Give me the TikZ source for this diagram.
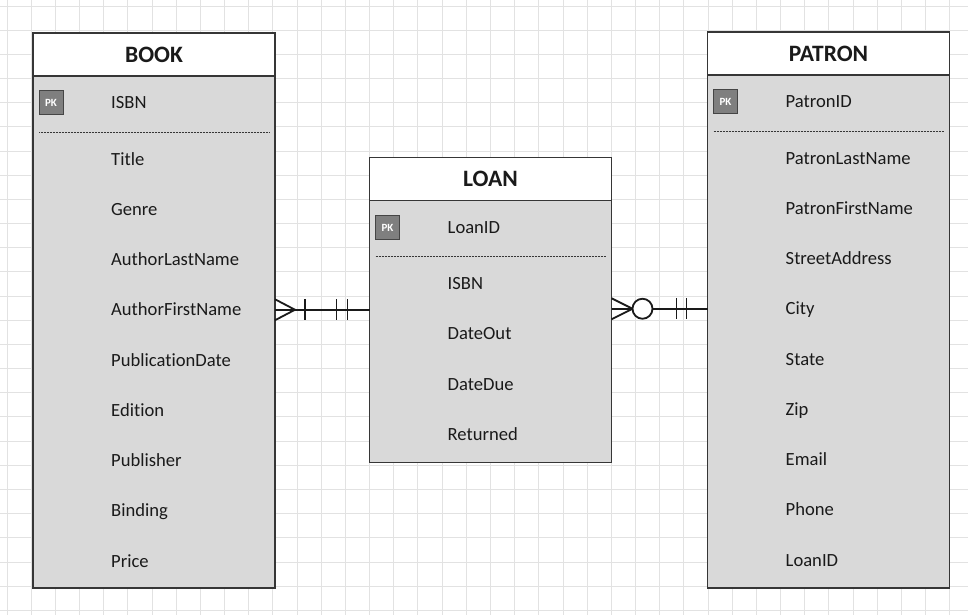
\documentclass[tikz,border=0pt]{standalone}
\usepackage{fontspec}
\setmainfont{Carlito}[Ligatures={NoCommon}]
\usetikzlibrary{calc}

\definecolor{gridc}{HTML}{E2E2E2}
\definecolor{edge}{HTML}{363636}
\definecolor{bodyfill}{HTML}{D9D9D9}
\definecolor{pkfill}{HTML}{7F7F7F}
\definecolor{pkedge}{HTML}{454545}
\definecolor{ink}{HTML}{1A1A1A}

\tikzset{
  gridline/.style={gridc, line width=0.8pt},
  hdr/.style={draw=edge, line width=1.2pt, fill=white, minimum width=242pt,
    minimum height=43pt, inner sep=0pt, outer sep=0pt,
    font=\fontsize{23.5}{26}\selectfont\bfseries, text=ink},
  bodybox/.style={draw=edge, line width=1.2pt, fill=bodyfill, minimum width=242pt,
    inner sep=0pt, outer sep=0pt},
  pkbadge/.style={draw=pkedge, line width=1pt, fill=pkfill, minimum size=24pt,
    inner sep=0pt, font=\fontsize{11}{12}\selectfont\bfseries, text=white},
  attr/.style={anchor=base west, inner sep=0pt, font=\fontsize{18.6}{21}\selectfont, text=ink},
  sepline/.style={edge, line width=0.8pt, dash pattern=on 0.8pt off 0.7pt},
  conn/.style={ink, line width=1.8pt},
}

% entity: id, title, left, top, body height, primary key
\newcommand{\erentity}[6]{%
  \node[hdr, anchor=north west] (#1-h) at (#3,#4) {#2};
  \node[bodybox, anchor=north west, minimum height=#5pt] (#1-b) at (#1-h.south west) {};
  \node[pkbadge] (#1-pk) at ($(#1-b.north west)+(18,27)$) {PK};
  \coordinate (#1-r0) at ($(#1-b.north west)+(78,27)$);
  \node[attr] (#1-k) at ($(#1-r0)+(0,6)$) {#6};
  \draw[sepline] ($(#1-b.north west)+(6,56)$) -- ($(#1-b.north east)+(-6,56)$);
}
% attribute rows below the separator
\newcommand{\erattrs}[2]{%
  \foreach \t [count=\i] in {#2} {
    \coordinate (#1-r\i) at ($(#1-r0)+(0,{56+50.25*(\i-1)})$);
    \node[attr] (#1-a\i) at ($(#1-r\i)+(0,6)$) {\t};
  }
}

\begin{document}
\begin{tikzpicture}[x=1pt,y=-1pt]
  \fill[white] (0,0) rectangle (968,615);
  \useasboundingbox (0,0) rectangle (968,615);

  % background grid
  \foreach \k in {0,...,39} \draw[gridline] ({7+24.17*\k},0) -- ++(0,615);
  \foreach \k in {0,...,25} \draw[gridline] (0,{6+24.17*\k}) -- ++(968,0);

  % entities
  \erentity{book}{BOOK}{33}{33}{512}{ISBN}
  \erattrs{book}{Title,Genre,AuthorLastName,AuthorFirstName,PublicationDate,Edition,Publisher,Binding,Price}

  \erentity{loan}{LOAN}{369.5}{157.5}{262}{LoanID}
  \erattrs{loan}{ISBN,DateOut,DateDue,Returned}

  \erentity{patron}{PATRON}{707.5}{32}{513}{PatronID}
  \erattrs{patron}{PatronLastName,PatronFirstName,StreetAddress,City,State,Zip,Email,Phone,LoanID}

  % BOOK (many) -- LOAN (one and only one)
  \coordinate (bl) at (book-b.east |- book-r4);
  \coordinate (lw) at (loan-b.west |- book-r4);
  \draw[conn] (bl) -- (lw);
  \draw[conn] ($(bl)+(0,-10.5)$) -- ($(bl)+(20,0)$) -- ($(bl)+(0,10.5)$);
  \draw[conn] ($(bl)+(30,-10.5)$) -- ($(bl)+(30,10.5)$);
  \draw[conn] ($(lw)+(-33,-10.5)$) -- ($(lw)+(-33,10.5)$);
  \draw[conn] ($(lw)+(-22,-10.5)$) -- ($(lw)+(-22,10.5)$);

  % LOAN (zero or many) -- PATRON (one and only one)
  \coordinate (le) at (loan-b.east |- patron-r4);
  \coordinate (pw) at (patron-b.west |- patron-r4);
  \draw[conn] (le) -- (pw);
  \draw[conn] ($(le)+(0,-10.5)$) -- ($(le)+(21,0)$) -- ($(le)+(0,10.5)$);
  \draw[conn, fill=white] ($(le)+(31,0)$) circle[radius=10];
  \draw[conn] ($(pw)+(-31,-10.5)$) -- ($(pw)+(-31,10.5)$);
  \draw[conn] ($(pw)+(-21,-10.5)$) -- ($(pw)+(-21,10.5)$);
\end{tikzpicture}
\end{document}
